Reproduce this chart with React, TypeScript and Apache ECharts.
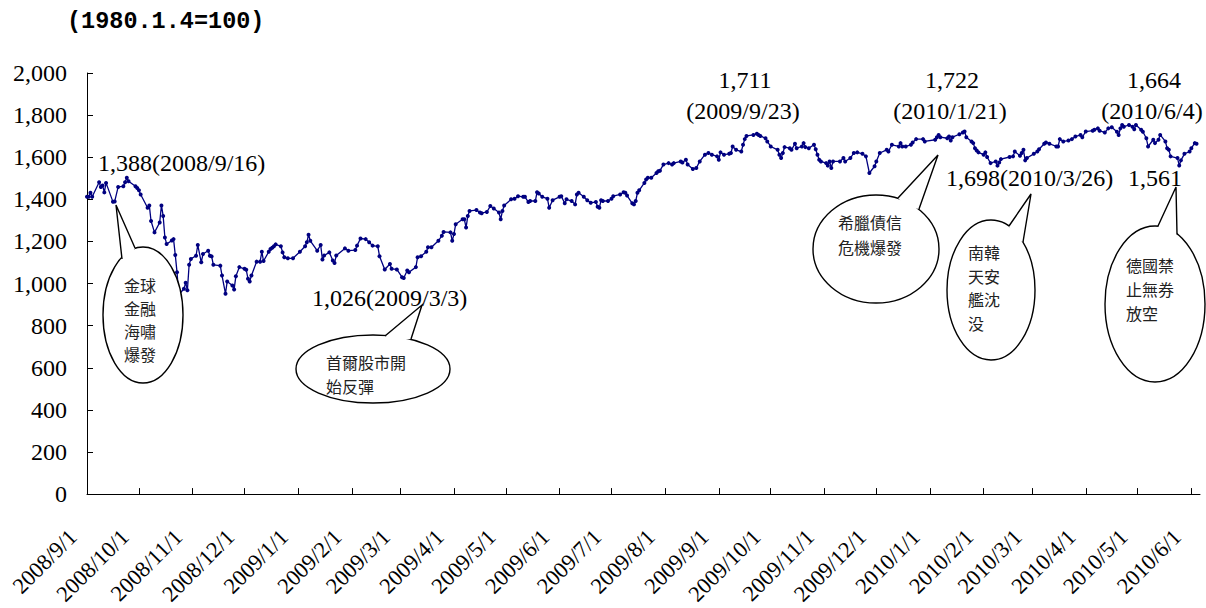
import React, { useEffect, useRef } from "react";
import * as echarts from "echarts";

// ---- data (KOSPI closes) ----
const MONTHS = [
  "2008-09", "2008-10", "2008-11", "2008-12",
  "2009-01", "2009-02", "2009-03", "2009-04", "2009-05", "2009-06",
  "2009-07", "2009-08", "2009-09", "2009-10", "2009-11", "2009-12",
  "2010-01", "2010-02", "2010-03", "2010-04", "2010-05", "2010-06",
];

const TRADING_DAYS: number[][] = [
  [1, 2, 3, 4, 8, 9, 10, 11, 12, 16, 17, 19, 22, 23, 24, 25, 29, 30],
  [1, 2, 6, 7, 8, 10, 13, 14, 15, 16, 17, 20, 21, 22, 23, 24, 27, 28, 29, 30, 31],
  [3, 4, 6, 7, 10, 11, 12, 13, 17, 18, 20, 21, 24, 25, 26, 28],
  [1, 2, 3, 4, 5, 8, 10, 11, 12, 15, 16, 17, 18, 19, 22, 23, 24, 26, 29],
  [2, 5, 6, 7, 8, 12, 14, 15, 16, 19, 21, 22, 23, 28, 30],
  [3, 4, 6, 9, 11, 13, 16, 17, 20, 23, 24, 27],
  [2, 3, 5, 6, 10, 11, 13, 16, 17, 19, 23, 25, 26, 30, 31],
  [1, 2, 6, 7, 8, 9, 10, 14, 16, 17, 20, 22, 24, 27, 28, 29, 30],
  [4, 6, 8, 11, 12, 14, 15, 18, 19, 20, 22, 25, 26, 28],
  [1, 2, 4, 5, 8, 10, 11, 12, 15, 17, 19, 22, 23, 24, 25, 26, 29],
  [1, 2, 6, 8, 9, 10, 13, 14, 15, 16, 17, 20, 21, 22, 24, 27, 28, 29, 31],
  [3, 5, 6, 10, 11, 13, 14, 17, 19, 21, 24, 26, 28, 31],
  [1, 2, 4, 7, 8, 9, 11, 14, 15, 16, 17, 21, 23, 24, 25, 28, 29],
  [1, 5, 6, 7, 8, 9, 12, 13, 15, 16, 19, 20, 21, 23, 26, 27, 28, 29, 30],
  [2, 3, 4, 5, 6, 10, 12, 13, 16, 18, 20, 23, 25, 27, 30],
  [1, 3, 7, 8, 10, 14, 15, 16, 18, 21, 22, 24, 28, 29],
  [4, 5, 6, 7, 11, 12, 13, 14, 18, 20, 21, 22, 25, 26, 27, 28, 29],
  [1, 2, 3, 5, 8, 9, 10, 11, 16, 18, 19, 22, 23, 24, 25, 26],
  [2, 4, 5, 8, 9, 11, 15, 16, 17, 19, 22, 24, 26, 29, 30],
  [1, 5, 6, 8, 9, 12, 14, 16, 19, 20, 21, 22, 23, 26, 28, 29, 30],
  [3, 4, 6, 7, 10, 11, 13, 14, 17, 18, 19, 20, 24, 25, 26, 28, 31],
  [1, 3, 4],
];

const CLOSES: number[][] = [
  [1412, 1412, 1431, 1412, 1481, 1459, 1466, 1433, 1478, 1388, 1390, 1459, 1462, 1481, 1502, 1486, 1462, 1454],
  [1443, 1423, 1360, 1371, 1297, 1243, 1290, 1371, 1321, 1219, 1188, 1204, 1211, 1136, 1054, 947, 975, 1004, 968, 1089, 1117],
  [1132, 1183, 1101, 1140, 1156, 1132, 1129, 1089, 1085, 1038, 952, 1010, 991, 972, 1035, 1078],
  [1070, 1065, 1023, 1010, 1038, 1104, 1104, 1151, 1107, 1151, 1164, 1170, 1177, 1186, 1177, 1148, 1125, 1120, 1120],
  [1151, 1177, 1196, 1232, 1203, 1156, 1183, 1114, 1133, 1148, 1109, 1098, 1133, 1167, 1156],
  [1159, 1180, 1214, 1211, 1196, 1180, 1177, 1130, 1067, 1093, 1070, 1067],
  [1030, 1026, 1062, 1054, 1078, 1125, 1130, 1151, 1172, 1172, 1203, 1227, 1245, 1243, 1203],
  [1235, 1282, 1305, 1305, 1266, 1321, 1345, 1349, 1337, 1334, 1340, 1368, 1356, 1337, 1305, 1345, 1371],
  [1400, 1403, 1415, 1412, 1412, 1387, 1392, 1392, 1434, 1428, 1412, 1403, 1360, 1396],
  [1412, 1415, 1381, 1400, 1392, 1376, 1423, 1431, 1412, 1396, 1384, 1387, 1365, 1360, 1396, 1392, 1392],
  [1403, 1415, 1423, 1434, 1431, 1418, 1381, 1376, 1392, 1431, 1443, 1478, 1494, 1502, 1502, 1525, 1533, 1536, 1565],
  [1572, 1565, 1572, 1580, 1575, 1588, 1565, 1544, 1549, 1580, 1612, 1620, 1612, 1604],
  [1588, 1623, 1612, 1616, 1620, 1651, 1635, 1627, 1659, 1686, 1701, 1706, 1711, 1706, 1701, 1690, 1675],
  [1651, 1635, 1612, 1596, 1620, 1648, 1643, 1635, 1664, 1643, 1651, 1667, 1648, 1643, 1659, 1638, 1612, 1588, 1580],
  [1572, 1560, 1580, 1549, 1580, 1580, 1596, 1580, 1596, 1620, 1623, 1616, 1604, 1525, 1557],
  [1580, 1620, 1635, 1627, 1659, 1651, 1667, 1651, 1651, 1659, 1670, 1686, 1686, 1675],
  [1683, 1695, 1706, 1695, 1690, 1698, 1679, 1695, 1709, 1717, 1722, 1695, 1675, 1667, 1643, 1632, 1623],
  [1612, 1623, 1601, 1572, 1580, 1560, 1575, 1591, 1601, 1604, 1627, 1607, 1620, 1635, 1585, 1596],
  [1616, 1627, 1638, 1664, 1670, 1664, 1651, 1651, 1686, 1675, 1679, 1686, 1698, 1706, 1695],
  [1722, 1726, 1730, 1737, 1726, 1717, 1737, 1742, 1721, 1706, 1737, 1753, 1745, 1753, 1745, 1733, 1753],
  [1730, 1721, 1690, 1651, 1683, 1667, 1683, 1706, 1675, 1643, 1635, 1604, 1596, 1561, 1585, 1616, 1627],
  [1643, 1667, 1664],
];

const X_TICKS = [
  "2008-09-01", "2008-10-01", "2008-11-01", "2008-12-01",
  "2009-01-01", "2009-02-01", "2009-03-01", "2009-04-01", "2009-05-01", "2009-06-01",
  "2009-07-01", "2009-08-01", "2009-09-01", "2009-10-01", "2009-11-01", "2009-12-01",
  "2010-01-01", "2010-02-01", "2010-03-01", "2010-04-01", "2010-05-01", "2010-06-01",
];
const X_MIN = "2008-09-01";
const X_MAX = "2010-06-06";
const Y_MIN = 0;
const Y_MAX = 2000;
const Y_STEP = 200;

const UNIT_NOTE = "(1980.1.4=100)";

const ANNOTATIONS = [
  "1,388(2008/9/16)",
  "1,026(2009/3/3)",
  "1,711",
  "(2009/9/23)",
  "1,722",
  "(2010/1/21)",
  "1,698(2010/3/26)",
  "1,664",
  "(2010/6/4)",
  "1,561",
];

const CALLOUT_TEXTS = [
  ["金球", "金融", "海嘯", "爆發"],
  ["首爾股市開", "始反彈"],
  ["希臘債信", "危機爆發"],
  ["南韓", "天安", "艦沈", "没"],
  ["德國禁", "止無券", "放空"],
];

// ---- layout (pixels) ----
const ANNOT_POS = [
  { x: 98, y: 163, align: "left" },
  { x: 312, y: 298, align: "left" },
  { x: 745, y: 80, align: "center" },
  { x: 743, y: 111, align: "center" },
  { x: 952, y: 80, align: "center" },
  { x: 950, y: 111, align: "center" },
  { x: 946, y: 178, align: "left" },
  { x: 1154, y: 80, align: "center" },
  { x: 1152, y: 111, align: "center" },
  { x: 1128, y: 178, align: "left" },
];

const BUBBLES = [
  { cx: 143, cy: 315, rx: 40, ry: 68, tip: [116, 205], bl: [122, 259], br: [135, 248], tx: 124, ty: 285, lh: 23 },
  { cx: 373, cy: 369, rx: 77, ry: 34, tip: [422, 305], bl: [385, 336], br: [411, 339], tx: 326, ty: 362, lh: 23.5 },
  { cx: 876, cy: 249, rx: 63, ry: 54, tip: [938, 155], bl: [898, 198], br: [919, 209], tx: 838, ty: 222, lh: 25 },
  { cx: 991, cy: 290, rx: 44, ry: 70, tip: [1031, 194], bl: [1009, 226], br: [1023, 242], tx: 968, ty: 252, lh: 23.5 },
  { cx: 1155, cy: 304, rx: 50, ry: 78, tip: [1176, 187], bl: [1158, 226], br: [1177, 234], tx: 1126, ty: 265, lh: 24 },
];

function toTs(s: string): number {
  const [y, m, d] = s.split("-").map(Number);
  return Date.UTC(y, m - 1, d);
}

function buildData(): [number, number][] {
  const out: [number, number][] = [];
  MONTHS.forEach((mon, i) => {
    TRADING_DAYS[i].forEach((day, j) => {
      out.push([toTs(`${mon}-${String(day).padStart(2, "0")}`), CLOSES[i][j]]);
    });
  });
  return out;
}

function buildGraphics(): any[] {
  const els: any[] = [];
  els.push({
    type: "text",
    x: 67,
    y: 21,
    z: 100,
    style: {
      text: UNIT_NOTE,
      fontFamily: "Liberation Mono",
      fontWeight: "bold",
      fontSize: 23.5,
      fill: "#000",
      align: "left",
      verticalAlign: "middle",
    },
  });
  ANNOTATIONS.forEach((t, i) => {
    const p = ANNOT_POS[i];
    els.push({
      type: "text",
      x: p.x,
      y: p.y,
      z: 100,
      style: {
        text: t,
        fontFamily: "Liberation Serif",
        fontSize: 24,
        fill: "#000",
        align: p.align,
        verticalAlign: "middle",
      },
    });
  });
  BUBBLES.forEach((b, i) => {
    els.push({
      type: "ellipse",
      z: 100,
      shape: { cx: b.cx, cy: b.cy, rx: b.rx, ry: b.ry },
      style: { fill: "#fff", stroke: "#000", lineWidth: 1.4 },
    });
    const mx = (b.bl[0] + b.br[0]) / 2;
    const my = (b.bl[1] + b.br[1]) / 2;
    const dx = b.cx - mx;
    const dy = b.cy - my;
    const len = Math.sqrt(dx * dx + dy * dy) || 1;
    const inner = [mx + (dx / len) * 4, my + (dy / len) * 4];
    els.push({
      type: "polygon",
      z: 101,
      shape: { points: [b.bl, b.tip, b.br, inner] },
      style: { fill: "#fff", stroke: null },
    });
    els.push({
      type: "polyline",
      z: 102,
      shape: { points: [b.bl, b.tip, b.br] },
      style: { fill: null, stroke: "#000", lineWidth: 1.4 },
    });
    els.push({
      type: "text",
      x: b.tx,
      y: b.ty - b.lh / 2,
      z: 103,
      style: {
        text: CALLOUT_TEXTS[i].join("\n"),
        fontFamily: "Noto Sans CJK TC",
        fontSize: 16,
        lineHeight: b.lh,
        fill: "#222",
        align: "left",
        verticalAlign: "top",
      },
    });
  });
  return els;
}

function fmtDate(v: number): string {
  const d = new Date(v);
  return `${d.getUTCFullYear()}/${d.getUTCMonth() + 1}/${d.getUTCDate()}`;
}

export default function App() {
  const ref = useRef<HTMLDivElement>(null);
  useEffect(() => {
    if (!ref.current) return;
    const chart = echarts.init(ref.current, null, { renderer: "svg" });
    const tickVals = X_TICKS.map(toTs);
    chart.setOption({
      animation: false,
      backgroundColor: "#fff",
      grid: { left: 87, right: 6, top: 73, bottom: 111, containLabel: false },
      xAxis: {
        type: "value",
        min: toTs(X_MIN),
        max: toTs(X_MAX),
        axisLine: { show: true, lineStyle: { color: "#000", width: 1 } },
        axisTick: { show: true, inside: true, length: 6, customValues: tickVals, lineStyle: { color: "#000" } },
        axisLabel: {
          customValues: tickVals,
          rotate: 45,
          margin: 25,
          padding: [0, 20, 0, 0],
          formatter: (v: number) => fmtDate(v),
          fontFamily: "Liberation Serif",
          fontSize: 22.5,
          color: "#000",
          hideOverlap: false,
        },
        splitLine: { show: false },
      },
      yAxis: {
        type: "value",
        min: Y_MIN,
        max: Y_MAX,
        interval: Y_STEP,
        axisLine: { show: true, lineStyle: { color: "#000", width: 1 } },
        axisTick: { show: true, inside: true, length: 6, lineStyle: { color: "#000" } },
        axisLabel: {
          margin: 20,
          formatter: (v: number) => v.toLocaleString("en-US"),
          fontFamily: "Liberation Serif",
          fontSize: 24,
          color: "#000",
        },
        splitLine: { show: false },
      },
      series: [
        {
          type: "line",
          data: buildData(),
          showAllSymbol: true,
          symbol: "circle",
          symbolSize: 4,
          lineStyle: { color: "#000080", width: 1.3 },
          itemStyle: { color: "#000080" },
          emphasis: { disabled: true },
          z: 2,
        },
      ],
      graphic: { elements: buildGraphics() },
    });
    return () => chart.dispose();
  }, []);
  return (
    <div
      ref={ref}
      style={{ position: "absolute", left: 0, top: 0, width: 1206, height: 608, background: "#fff" }}
    />
  );
}
